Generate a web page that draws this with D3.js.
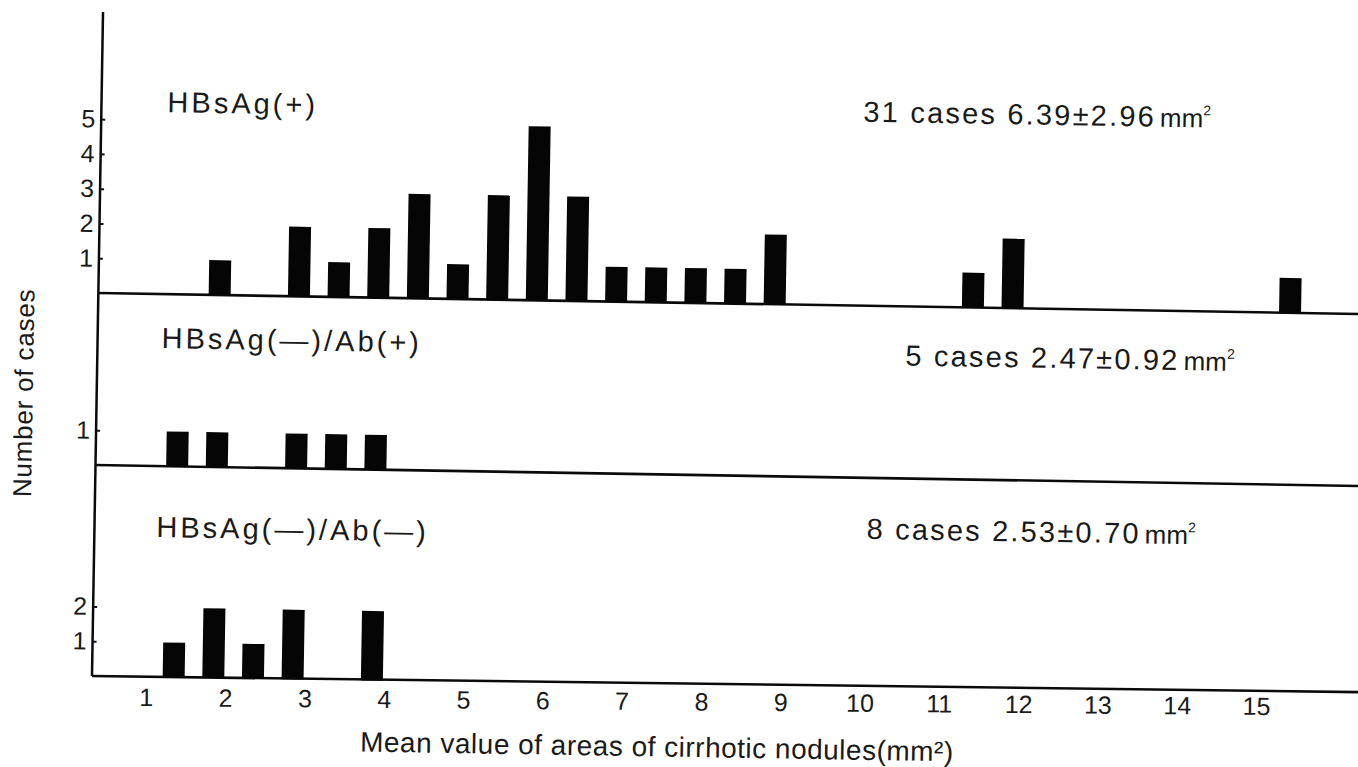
<!DOCTYPE html>
<html>
<head>
<meta charset="utf-8">
<script src="https://cdn.jsdelivr.net/npm/d3@7"></script>
<style>
  body { margin: 0; background: #fff; }
  svg { display: block; font-family: "Liberation Sans", Arial, Helvetica, sans-serif; }
</style>
</head>
<body>
<div id="canvas"></div>
<script>
const w = 1358
const h = 767

// each bar is a 0.5 mm² bin, stored by its lower edge
const binWidth = 0.5
const posStarts = [1.5, 2.5, 3, 3.5, 4, 4.5, 5, 5.5, 6, 6.5, 7, 7.5, 8, 8.5, 11, 11.5, 15]
const posCounts = [1, 2, 1, 2, 3, 1, 3, 5, 3, 1, 1, 1, 1, 2, 1, 2, 1]
const abPosStarts = [1, 1.5, 2.5, 3, 3.5]
const abPosCounts = [1, 1, 1, 1, 1]
const abNegStarts = [1, 1.5, 2, 2.5, 3.5]
const abNegCounts = [1, 2, 1, 2, 2]

const xTicks = [1, 2, 3, 4, 5, 6, 7, 8, 9, 10, 11, 12, 13, 14, 15]
const panelNames = ['HBsAg(+)', 'HBsAg(—)/Ab(+)', 'HBsAg(—)/Ab(—)']
const panelCases = [31, 5, 8]
const panelMeans = ['6.39', '2.47', '2.53']
const panelSDs = ['2.96', '0.92', '0.70']
const panelTicks = [[1, 2, 3, 4, 5], [1], [1, 2]]

const xTitle = 'Mean value of areas of cirrhotic nodules(mm²)'
const yTitle = 'Number of cases'

// layout (the scanned figure sits slightly rotated)
const tilt = 0.95
const labelTilt = 0.45
const axisX = 92
const axisTop = 12
const rightEnd = 1380
const unit = 34.8
const barW = 22
const bases = [293, 465, 676]
const baseDroop = [0, 0, -5]   // bottom line of the scan is a bit flatter
const namePos = [[158, 111], [156, 347], [154, 536]]
const statPos = [[854, 109], [900, 352], [864, 526]]

const panels = [
	{starts: posStarts, counts: posCounts},
	{starts: abPosStarts, counts: abPosCounts},
	{starts: abNegStarts, counts: abNegCounts}
]

const svg = d3.select('#canvas')
	.append('svg')
	.attr('width', w)
	.attr('height', h);

svg.append('rect')
	.attr('width', w)
	.attr('height', h)
	.attr('fill', '#fff');

const graph = svg.append('g')
	.attr('transform', `rotate(${tilt}, ${axisX}, ${bases[2]})`);

const x = d3.scaleLinear()
	.domain([1, 15])
	.range([146, 146 + 14 * 79.3]);

// vertical axis line
graph.append('line')
	.attr('x1', axisX).attr('x2', axisX)
	.attr('y1', axisTop).attr('y2', bases[2])
	.attr('stroke', '#0a0a0a')
	.attr('stroke-width', 2.5);

panels.forEach((p, i) => {
	const base = bases[i];
	const y = d3.scaleLinear()
		.domain([0, 5])
		.range([base, base - 5 * unit]);

	// baseline of the panel
	graph.append('line')
		.attr('x1', axisX).attr('x2', rightEnd)
		.attr('y1', base).attr('y2', base + baseDroop[i])
		.attr('stroke', '#0a0a0a')
		.attr('stroke-width', 2.6);

	const data = p.starts.map((s, j) => ({start: s, count: p.counts[j]}));

	graph.append('g').selectAll('rect')
		.data(data)
		.enter()
		.append('rect')
			.attr('x', d => x(d.start + binWidth) - barW - 1)
			.attr('width', barW)
			.attr('y', d => y(d.count))
			.attr('height', d => base - y(d.count))
			.attr('fill', '#050505');

	const yAxis = d3.axisLeft(y)
		.tickValues(panelTicks[i])
		.tickSize(-4)
		.tickPadding(6)
		.tickFormat(d3.format('d'));

	const yAxisGroup = graph.append('g')
		.attr('transform', `translate(${axisX}, 0)`)
		.call(yAxis);
	yAxisGroup.select('.domain').remove();
	yAxisGroup.selectAll('line').attr('stroke', '#111').attr('stroke-width', 2);
	yAxisGroup.selectAll('text')
		.attr('font-size', 25)
		.attr('font-family', null)
		.attr('fill', '#1a1a1a');

	// group name
	graph.append('text')
		.attr('x', namePos[i][0])
		.attr('y', namePos[i][1])
		.attr('font-size', 29)
		.attr('letter-spacing', 3)
		.attr('fill', '#1a1a1a')
		.text(panelNames[i]);

	// cases and mean ± sd
	const stat = graph.append('text')
		.attr('x', statPos[i][0])
		.attr('y', statPos[i][1])
		.attr('font-size', 29)
		.attr('letter-spacing', 2.2)
		.attr('fill', '#1a1a1a');
	stat.append('tspan').text(`${panelCases[i]} cases ${panelMeans[i]}±${panelSDs[i]}`);
	stat.append('tspan').attr('font-size', 26).attr('letter-spacing', 0).attr('dx', 4).text('mm');
	stat.append('tspan').attr('font-size', 14).attr('letter-spacing', 0).attr('dy', -12).text('2');
});

// x axis labels, drawn a little flatter like in the scan
const xGroup = svg.append('g')
	.attr('transform', `rotate(${labelTilt}, ${axisX}, ${bases[2]})`);

const xAxis = d3.axisBottom(x)
	.tickValues(xTicks)
	.tickSize(0)
	.tickPadding(12)
	.tickFormat(d3.format('d'));

const xAxisGroup = xGroup.append('g')
	.attr('transform', `translate(0, ${bases[2]})`)
	.call(xAxis);
xAxisGroup.select('.domain').remove();
xAxisGroup.selectAll('text')
	.attr('font-size', 25)
	.attr('font-family', null)
	.attr('fill', '#1a1a1a');

graph.append('text')
	.attr('x', 658)
	.attr('y', 747)
	.attr('text-anchor', 'middle')
	.attr('font-size', 28)
	.attr('letter-spacing', 0.5)
	.attr('fill', '#1a1a1a')
	.text(xTitle);

graph.append('text')
	.attr('transform', 'translate(28, 394) rotate(-90)')
	.attr('text-anchor', 'middle')
	.attr('font-size', 26)
	.attr('letter-spacing', 0.8)
	.attr('fill', '#1a1a1a')
	.text(yTitle);
</script>
</body>
</html>
